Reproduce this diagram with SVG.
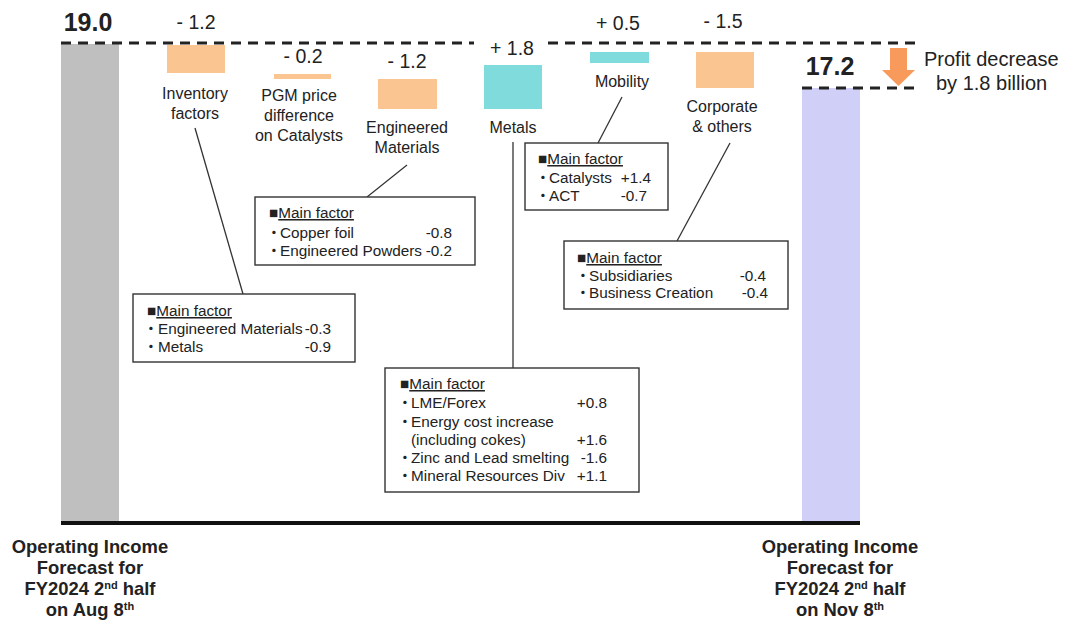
<svg xmlns="http://www.w3.org/2000/svg" width="1068" height="623" viewBox="0 0 1068 623">
<style>
text{font-family:"Liberation Sans",Arial,"Noto Sans CJK JP",sans-serif;fill:#222;}
.val{font-size:19.5px;text-anchor:middle;}
.big{font-size:25px;font-weight:bold;text-anchor:middle;}
.cat{font-size:16px;text-anchor:middle;}
.bx{font-size:15.3px;}
.end{text-anchor:end;}
.mid{text-anchor:middle;}
.bot{font-size:18.4px;font-weight:bold;text-anchor:middle;}
.box{fill:#fff;stroke:#333;stroke-width:1.4;}
.con{stroke:#333;stroke-width:1.3;fill:none;}
.dash{stroke:#222;stroke-width:3;stroke-dasharray:10 7;fill:none;}
.neg{fill:#fbc591;}
.pos{fill:#80dcdc;}
.ul{text-decoration:underline;}
</style>
<rect width="1068" height="623" fill="#fff"/>
<g id="baseline-bars">
<rect x="61" y="44" width="58" height="478" fill="#bfbfbf"/>
<rect x="802" y="88" width="58" height="434" fill="#cfcff8"/>
<line x1="61" y1="523" x2="860" y2="523" stroke="#111" stroke-width="4"/>
<text class="big" x="88" y="31">19.0</text>
<text class="big" x="830" y="75">17.2</text>
</g>
<g id="dashes">
<line class="dash" x1="61" y1="43" x2="474" y2="43"/>
<line class="dash" x1="548" y1="43" x2="918" y2="43"/>
<line class="dash" x1="802" y1="88" x2="918" y2="88"/>
</g>
<g id="inventory">
<rect class="neg" x="167" y="45" width="58" height="28"/>
<text class="val" x="196" y="29">- 1.2</text>
<text class="cat" x="195" y="99">Inventory</text>
<text class="cat" x="195" y="119">factors</text>
</g>
<g id="pgm">
<rect class="neg" x="274" y="74" width="57" height="5"/>
<text class="val" x="303" y="63">- 0.2</text>
<text class="cat" x="299" y="101">PGM price</text>
<text class="cat" x="299" y="121">difference</text>
<text class="cat" x="299" y="141">on Catalysts</text>
</g>
<g id="engineered">
<rect class="neg" x="378" y="79" width="59" height="30"/>
<text class="val" x="407" y="68">- 1.2</text>
<text class="cat" x="407" y="133">Engineered</text>
<text class="cat" x="407" y="153">Materials</text>
</g>
<g id="metals">
<rect class="pos" x="484" y="65" width="58" height="44"/>
<text class="val" x="512" y="55">+ 1.8</text>
<text class="cat" x="513" y="133">Metals</text>
</g>
<g id="mobility">
<rect class="pos" x="590" y="52" width="59" height="11"/>
<text class="val" x="618" y="30">+ 0.5</text>
<text class="cat" x="622" y="87">Mobility</text>
</g>
<g id="corporate">
<rect class="neg" x="696" y="52" width="58" height="36"/>
<text class="val" x="723" y="28">- 1.5</text>
<text class="cat" x="722" y="112">Corporate</text>
<text class="cat" x="722" y="132">&amp; others</text>
</g>
<g id="profit-decrease">
<path d="M890 48 H907 V70 H915 L898.5 86 L882 70 H890 Z" fill="#f79a5c"/>
<text x="924" y="66" style="font-size:20px">Profit decrease</text>
<text x="936" y="90" style="font-size:20px">by 1.8 billion</text>
</g>
<g id="connectors">
<line class="con" x1="195" y1="128" x2="243" y2="294"/>
<line class="con" x1="407" y1="165" x2="367" y2="197"/>
<line class="con" x1="513" y1="142" x2="513" y2="368"/>
<line class="con" x1="622" y1="97" x2="598" y2="143"/>
<line class="con" x1="730" y1="143" x2="677" y2="241"/>
</g>
<g id="box-inventory">
<rect class="box" x="133" y="294" width="222" height="68"/>
<text class="bx" x="147" y="316">■<tspan class="ul">Main factor</tspan></text>
<text class="bx"><tspan class="mid" x="151" y="334">・</tspan><tspan x="158" y="334">Engineered Materials</tspan><tspan class="end" x="331" y="334">-0.3</tspan></text>
<text class="bx"><tspan class="mid" x="151" y="352">・</tspan><tspan x="158" y="352">Metals</tspan><tspan class="end" x="331" y="352">-0.9</tspan></text>
</g>
<g id="box-engineered">
<rect class="box" x="255" y="197" width="220" height="68"/>
<text class="bx" x="269" y="218">■<tspan class="ul">Main factor</tspan></text>
<text class="bx"><tspan class="mid" x="274" y="238">・</tspan><tspan x="280" y="238">Copper foil</tspan><tspan class="end" x="452" y="238">-0.8</tspan></text>
<text class="bx"><tspan class="mid" x="274" y="256">・</tspan><tspan x="280" y="256">Engineered Powders</tspan><tspan class="end" x="452" y="256">-0.2</tspan></text>
</g>
<g id="box-metals">
<rect class="box" x="385" y="368" width="254" height="124"/>
<text class="bx" x="400" y="389">■<tspan class="ul">Main factor</tspan></text>
<text class="bx"><tspan class="mid" x="405" y="408">・</tspan><tspan x="411" y="408">LME/Forex</tspan><tspan class="end" x="607" y="408">+0.8</tspan></text>
<text class="bx"><tspan class="mid" x="405" y="427">・</tspan><tspan x="411" y="427">Energy cost increase</tspan></text>
<text class="bx"><tspan x="411" y="445">(including cokes)</tspan><tspan class="end" x="607" y="445">+1.6</tspan></text>
<text class="bx"><tspan class="mid" x="405" y="463">・</tspan><tspan x="411" y="463">Zinc and Lead smelting</tspan><tspan class="end" x="607" y="463">-1.6</tspan></text>
<text class="bx"><tspan class="mid" x="405" y="481">・</tspan><tspan x="411" y="481">Mineral Resources Div</tspan><tspan class="end" x="607" y="481">+1.1</tspan></text>
</g>
<g id="box-mobility">
<rect class="box" x="525" y="143" width="143" height="67"/>
<text class="bx" x="538" y="164">■<tspan class="ul">Main factor</tspan></text>
<text class="bx"><tspan class="mid" x="543" y="183">・</tspan><tspan x="549" y="183">Catalysts</tspan><tspan class="end" x="651" y="183">+1.4</tspan></text>
<text class="bx"><tspan class="mid" x="543" y="201">・</tspan><tspan x="549" y="201">ACT</tspan><tspan class="end" x="647" y="201">-0.7</tspan></text>
</g>
<g id="box-corporate">
<rect class="box" x="564" y="241" width="224" height="68"/>
<text class="bx" x="577" y="263">■<tspan class="ul">Main factor</tspan></text>
<text class="bx"><tspan class="mid" x="583" y="281">・</tspan><tspan x="589" y="281">Subsidiaries</tspan><tspan class="end" x="766" y="281">-0.4</tspan></text>
<text class="bx"><tspan class="mid" x="583" y="298">・</tspan><tspan x="589" y="298">Business Creation</tspan><tspan class="end" x="768" y="298">-0.4</tspan></text>
</g>
<g id="label-aug">
<text class="bot" x="90" y="553">Operating Income</text>
<text class="bot" x="90" y="574">Forecast for</text>
<text class="bot" x="90" y="595">FY2024 2<tspan dy="-6" style="font-size:11px">nd</tspan><tspan dy="6"> half</tspan></text>
<text class="bot" x="90" y="616">on Aug 8<tspan dy="-6" style="font-size:11px">th</tspan></text>
</g>
<g id="label-nov">
<text class="bot" x="840" y="553">Operating Income</text>
<text class="bot" x="840" y="574">Forecast for</text>
<text class="bot" x="840" y="595">FY2024 2<tspan dy="-6" style="font-size:11px">nd</tspan><tspan dy="6"> half</tspan></text>
<text class="bot" x="840" y="616">on Nov 8<tspan dy="-6" style="font-size:11px">th</tspan></text>
</g>
</svg>
